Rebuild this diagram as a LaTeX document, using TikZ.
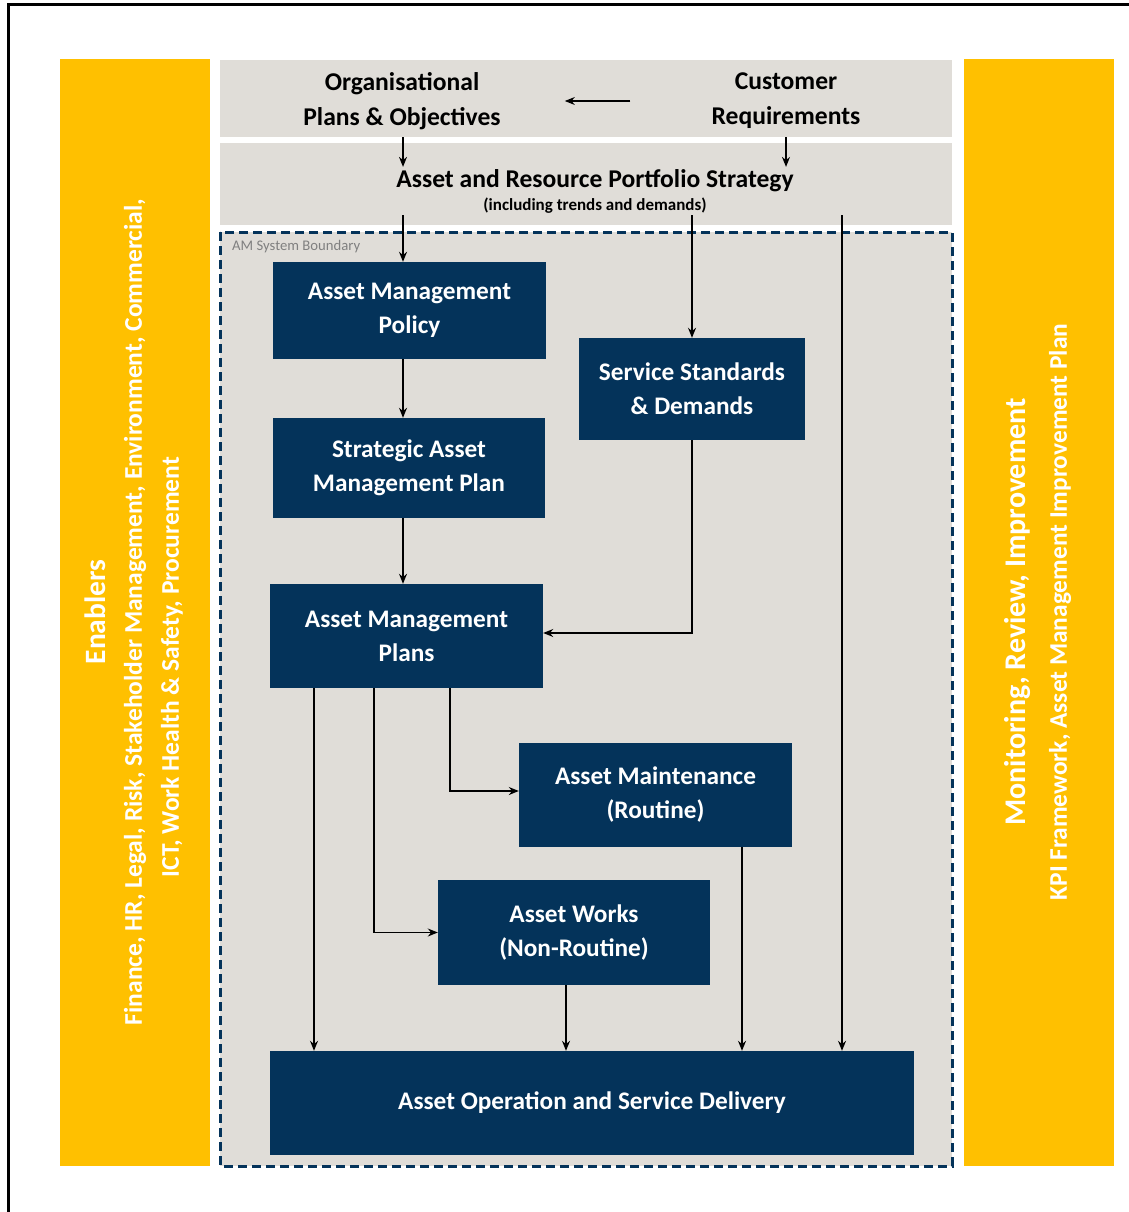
\documentclass[tikz,border=0pt]{standalone}
\usepackage{fontspec}
\setmainfont{Carlito}
\usetikzlibrary{positioning, arrows.meta, calc}
\definecolor{navy}{HTML}{04335A}
\definecolor{amber}{HTML}{FFC000}
\definecolor{stone}{HTML}{E0DDD8}
\tikzstyle{block} = [rectangle, fill=navy, text=white, align=center, inner sep=0, font=\fontsize{25.3}{34}\selectfont\bfseries]
\tikzstyle{band} = [rectangle, fill=stone, inner sep=0]
\tikzstyle{bandtext} = [align=center, text=black, inner sep=2, font=\fontsize{25.6}{35}\selectfont\bfseries]
\tikzstyle{sidebar} = [rectangle, fill=amber, inner sep=0, minimum width=150, minimum height=1107]
\tikzstyle{sidetext} = [rotate=90, text=white, inner sep=0, font=\bfseries]
\tikzstyle{arrow} = [line width=1.3, -{Stealth[length=10, width=8]}]

\begin{document}
\begin{tikzpicture}[x=1pt, y=-1pt]
		\useasboundingbox (0,0) rectangle (1129,1212);
		%外框
		\draw [line width=3] (8,1240) -- (8,5) -- (1160,5);
		
		%两侧边栏
		\node (enablers) [sidebar] at (134.5,612.5) {};
		\node (monitor) [sidebar] at (1039,612.5) {};
		\node [sidetext, font=\fontsize{29.5}{30}\selectfont\bfseries] at (95,612) {Enablers};
		\node [sidetext, font=\fontsize{25.5}{26}\selectfont\bfseries] at (135,612) {Finance, HR, Legal, Risk, Stakeholder Management, Environment, Commercial,};
		\node [sidetext, font=\fontsize{25.5}{26}\selectfont\bfseries] at (172,667) {ICT, Work Health \& Safety, Procurement};
		\node [sidetext, font=\fontsize{30}{31}\selectfont\bfseries] at (1018,612) {Monitoring, Review, Improvement};
		\node [sidetext, font=\fontsize{25.4}{26}\selectfont\bfseries] at (1060,612) {KPI Framework, Asset Management Improvement Plan};
		
		%顶部灰色区域
		\node (band1) [band, minimum width=732, minimum height=77] at (586,98.5) {};
		\node (band2) [band, minimum width=732, minimum height=82] at (586,184) {};
		\node (org) [bandtext] at (402,101) {Organisational\\Plans \& Objectives};
		\node (cust) [bandtext] at (786,101) {Customer\\Requirements};
		\node (strat) [bandtext] at (595,191) {Asset and Resource Portfolio Strategy\\[-12pt]{\fontsize{17}{18}\selectfont (including trends and demands)}};
		
		%AM系统边界
		\draw [navy, line width=3, dash pattern=on 9 off 5, fill=stone] (220,232) rectangle (952,1166);
		\node [anchor=west, text=gray, inner sep=0, font=\fontsize{14.7}{16}\selectfont] at (232,247) {AM System Boundary};
		
		%定义流程图具体形状
		\node (policy) [block, minimum width=273, minimum height=97] at (409.5,310.5) {Asset Management\\Policy};
		\node (service) [block, minimum width=226, minimum height=102] at (692,389) {Service Standards\\\& Demands};
		\node (samp) [block, minimum width=272, minimum height=100] at (409,468) {Strategic Asset\\Management Plan};
		\node (amp) [block, minimum width=273, minimum height=104] at (406.5,636) {Asset Management\\Plans};
		\node (maint) [block, minimum width=273, minimum height=104] at (655.5,795) {Asset Maintenance\\(Routine)};
		\node (works) [block, minimum width=272, minimum height=105] at (574,932.5) {Asset Works\\(Non-Routine)};
		\node (oper) [block, minimum width=644, minimum height=104] at (592,1103) {Asset Operation and Service Delivery};
		
		%连线用的坐标
		\coordinate (spine) at (403,0);
		\coordinate (direct) at (842,215);
		\coordinate (tapA) at (314,0);
		\coordinate (tapB) at (374,0);
		\coordinate (tapC) at (450,0);
		\coordinate (tapD) at (566,0);
		\coordinate (tapE) at (742,0);
		
		%连接具体形状
		\draw [arrow, shorten <=79, shorten >=62](cust) -- (org);
		\draw [arrow](spine |- band1.south) -- (spine |- strat.north);
		\draw [arrow](cust |- band1.south) -- (cust |- strat.north);
		\draw [arrow](spine |- strat.south) -- (spine |- policy.north);
		\draw [arrow](service |- strat.south) -- (service.north);
		\draw [arrow](direct) -- (direct |- oper.north);
		\draw [arrow](spine |- policy.south) -- (spine |- samp.north);
		\draw [arrow](spine |- samp.south) -- (spine |- amp.north);
		\draw [arrow](service.south) |- ([yshift=3]amp.east);
		\draw [arrow](tapC |- amp.south) |- ([yshift=4]maint.west);
		\draw [arrow](tapB |- amp.south) |- (works.west);
		\draw [arrow](tapA |- amp.south) -- (tapA |- oper.north);
		\draw [arrow](tapD |- works.south) -- (tapD |- oper.north);
		\draw [arrow](tapE |- maint.south) -- (tapE |- oper.north);
	\end{tikzpicture}
\end{document}
